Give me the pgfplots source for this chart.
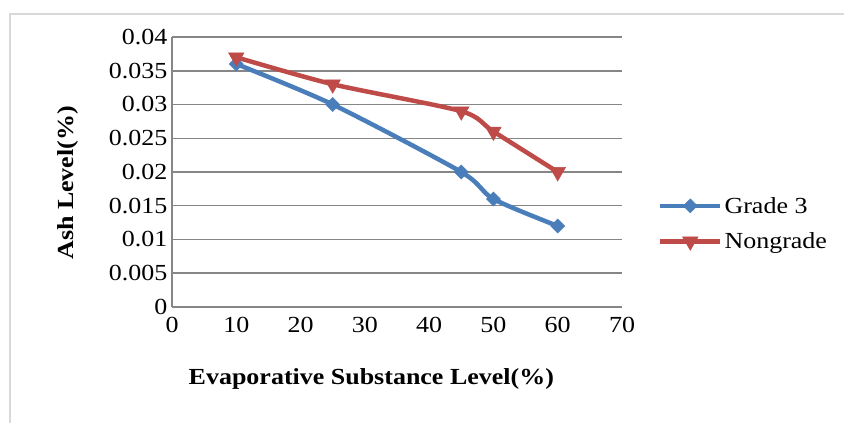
\documentclass[border=0pt]{standalone}
\usepackage{fontspec}
\setmainfont{Liberation Serif}[FakeStretch=1.13]
\usepackage{pgfplots}
\pgfplotsset{compat=1.18}

\definecolor{gradeblue}{HTML}{4A7EBB}
\definecolor{nongred}{HTML}{BE4B48}
\definecolor{gridgray}{HTML}{868686}
\definecolor{framegray}{HTML}{D9D9D9}

\begin{document}
\begin{tikzpicture}[x=1pt,y=1pt]
\useasboundingbox (0,0) rectangle (844,423);
\fill[white] (0,0) rectangle (844,423);
\draw[framegray, line width=2pt] (10,0) -- (10,409) -- (844,409);

\begin{axis}[
    at={(172pt,116pt)}, anchor=south west,
    scale only axis,
    width=450pt, height=270pt,
    xmin=0, xmax=70,
    ymin=0, ymax=0.04,
    xtick={0,10,...,70},
    ytick={0,0.005,0.01,0.015,0.02,0.025,0.03,0.035,0.04},
    yticklabels={0,0.005,0.01,0.015,0.02,0.025,0.03,0.035,0.04},
    scaled y ticks=false,
    axis lines=left,
    axis line style={-, gridgray, line width=1.5pt},
    ymajorgrids=true,
    major grid style={gridgray, line width=1.5pt},
    major tick length=0pt,
    tick label style={font=\fontsize{23}{27}\selectfont},
    /pgf/number format/assume math mode=true,
    xticklabel style={yshift=-7pt},
    yticklabel style={xshift=-1pt},
    xlabel={\textbf{Evaporative Substance Level(\%)}},
    ylabel={\textbf{Ash Level(\%)}},
    label style={font=\fontsize{23}{27}\selectfont},
    xlabel style={at={(rel axis cs:0.443,0)}, anchor=center, yshift=-72pt},
    ylabel style={at={(rel axis cs:-0.231,0.46)}, anchor=center},
    legend style={at={(rel axis cs:1.073,0.309)}, anchor=west, draw=none, fill=none,
        font=\fontsize{23}{27}\selectfont, row sep=14pt,
        /tikz/every even column/.append style={column sep=4pt}},
    legend cell align=left,
    legend image code/.code={
        \draw[#1, mark repeat=2, mark phase=2] plot coordinates {(0pt,0pt) (30pt,0pt) (60pt,0pt)};
    },
]
\addplot[gradeblue, line width=4.5pt, smooth, tension=0.45, mark=diamond*,
    mark size=7pt, mark options={solid, line width=0.5pt, fill=gradeblue, xscale=1.33}]
    coordinates {
        (10, 0.036)
        (25, 0.030)
        (45, 0.020)
        (50, 0.016)
        (60, 0.012)
    };
\addlegendentry{Grade 3}

\addplot[nongred, line width=4.5pt, smooth, tension=0.45, mark=triangle*,
    mark size=9pt, mark options={solid, line width=0.5pt, fill=nongred, rotate=180}]
    coordinates {
        (10, 0.037)
        (25, 0.033)
        (45, 0.029)
        (50, 0.026)
        (60, 0.020)
    };
\addlegendentry{Nongrade}
\end{axis}
\end{tikzpicture}
\end{document}
